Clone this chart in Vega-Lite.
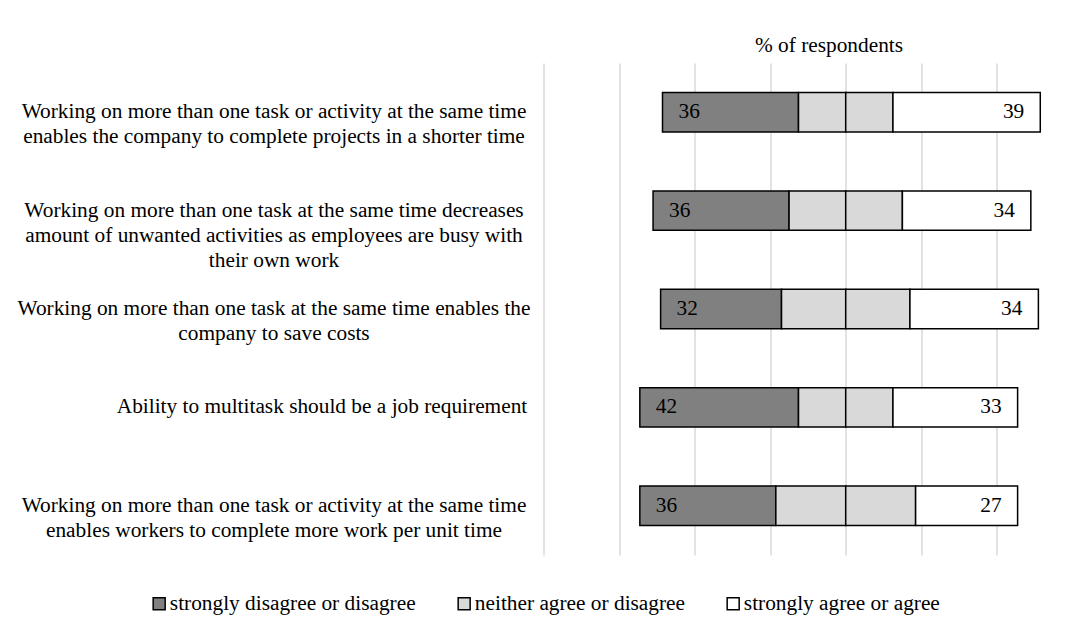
{
  "$schema": "https://vega.github.io/schema/vega-lite/v6.json",
  "autosize": "none",
  "padding": {"left": 543.5, "top": 63, "right": 11.5, "bottom": 78},
  "width": 510,
  "height": 492,
  "background": "white",
  "config": {
    "view": {"stroke": null},
    "font": "Liberation Serif, Times New Roman, serif"
  },
  "data": {
    "values": [
      {"q": "Working on more than one task or activity at the same time|enables the company to complete projects in a shorter time", "cat": "strongly disagree or disagree", "v": -36, "pct": 36},
      {"q": "Working on more than one task or activity at the same time|enables the company to complete projects in a shorter time", "cat": "neither agree or disagree", "v": -12.5, "pct": 25},
      {"q": "Working on more than one task or activity at the same time|enables the company to complete projects in a shorter time", "cat": "neither agree or disagree", "v": 12.5, "pct": 25},
      {"q": "Working on more than one task or activity at the same time|enables the company to complete projects in a shorter time", "cat": "strongly agree or agree", "v": 39, "pct": 39},
      {"q": "Working on more than one task at the same time decreases|amount of unwanted activities as employees are busy with|their own work", "cat": "strongly disagree or disagree", "v": -36, "pct": 36},
      {"q": "Working on more than one task at the same time decreases|amount of unwanted activities as employees are busy with|their own work", "cat": "neither agree or disagree", "v": -15, "pct": 30},
      {"q": "Working on more than one task at the same time decreases|amount of unwanted activities as employees are busy with|their own work", "cat": "neither agree or disagree", "v": 15, "pct": 30},
      {"q": "Working on more than one task at the same time decreases|amount of unwanted activities as employees are busy with|their own work", "cat": "strongly agree or agree", "v": 34, "pct": 34},
      {"q": "Working on more than one task at the same time enables the|company to save costs", "cat": "strongly disagree or disagree", "v": -32, "pct": 32},
      {"q": "Working on more than one task at the same time enables the|company to save costs", "cat": "neither agree or disagree", "v": -17, "pct": 34},
      {"q": "Working on more than one task at the same time enables the|company to save costs", "cat": "neither agree or disagree", "v": 17, "pct": 34},
      {"q": "Working on more than one task at the same time enables the|company to save costs", "cat": "strongly agree or agree", "v": 34, "pct": 34},
      {"q": "Ability to multitask should be a job requirement", "cat": "strongly disagree or disagree", "v": -42, "pct": 42},
      {"q": "Ability to multitask should be a job requirement", "cat": "neither agree or disagree", "v": -12.5, "pct": 25},
      {"q": "Ability to multitask should be a job requirement", "cat": "neither agree or disagree", "v": 12.5, "pct": 25},
      {"q": "Ability to multitask should be a job requirement", "cat": "strongly agree or agree", "v": 33, "pct": 33},
      {"q": "Working on more than one task or activity at the same time|enables workers to complete more work per unit time", "cat": "strongly disagree or disagree", "v": -36, "pct": 36},
      {"q": "Working on more than one task or activity at the same time|enables workers to complete more work per unit time", "cat": "neither agree or disagree", "v": -18.5, "pct": 37},
      {"q": "Working on more than one task or activity at the same time|enables workers to complete more work per unit time", "cat": "neither agree or disagree", "v": 18.5, "pct": 37},
      {"q": "Working on more than one task or activity at the same time|enables workers to complete more work per unit time", "cat": "strongly agree or agree", "v": 27, "pct": 27}
    ]
  },
  "encoding": {
    "y": {
      "field": "q",
      "type": "nominal",
      "sort": null,
      "scale": {"paddingInner": 0.6, "paddingOuter": 0.3},
      "axis": {
        "title": null,
        "domain": false,
        "ticks": false,
        "grid": false,
        "labelExpr": "split(datum.label, '|')",
        "labelFont": "Liberation Serif, Times New Roman, serif",
        "labelFontSize": 21.33,
        "labelColor": "black",
        "labelLineHeight": 25,
        "labelLimit": 0,
        "labelAlign": "center",
        "labelBaseline": "middle",
        "labelPadding": {"condition": {"test": "indexof(datum.value, 'Ability') == 0", "value": 222}, "value": 270}
      }
    }
  },
  "layer": [
    {
      "mark": {"type": "bar", "stroke": "black", "strokeWidth": 1.5},
      "encoding": {
        "x": {
          "field": "v",
          "type": "quantitative",
          "stack": "zero",
          "scale": {"domain": [-80, 55], "nice": false, "zero": false},
          "axis": {
            "orient": "top",
            "values": [-80, -60, -40, -20, 0, 20, 40],
            "labels": false,
            "ticks": false,
            "domain": false,
            "grid": true,
            "gridColor": "#d9d9d9",
            "gridWidth": 1.5,
            "title": "% of respondents",
            "titleFont": "Liberation Serif, Times New Roman, serif",
            "titleFontSize": 21.33,
            "titleFontWeight": "normal",
            "titleColor": "black",
            "titleX": 285,
            "titleY": -18,
            "titleAlign": "center",
            "titleBaseline": "middle"
          }
        },
        "color": {
          "field": "cat",
          "type": "nominal",
          "scale": {
            "domain": ["strongly disagree or disagree", "neither agree or disagree", "strongly agree or agree"],
            "range": ["#808080", "#d9d9d9", "#ffffff"]
          },
          "legend": {
            "title": null,
            "orient": "none",
            "direction": "horizontal",
            "legendX": -395,
            "legendY": 530,
            "padding": 0,
            "symbolType": "square",
            "symbolSize": 144,
            "symbolStrokeColor": "black",
            "symbolStrokeWidth": 1.5,
            "symbolOpacity": 1,
            "labelFont": "Liberation Serif, Times New Roman, serif",
            "labelFontSize": 21.33,
            "labelColor": "black",
            "labelOffset": 0,
            "labelLimit": 0,
            "columnPadding": 37
          }
        },
        "order": {"field": "cat", "sort": "ascending"}
      }
    },
    {
      "mark": {"type": "rule", "color": "#c4c4c4", "strokeWidth": 2.2},
      "encoding": {"x": {"datum": 0}}
    },
    {
      "mark": {"type": "text", "align": "left", "baseline": "middle", "dx": 16, "font": "Liberation Serif, Times New Roman, serif", "fontSize": 21.33, "color": "black"},
      "encoding": {
        "x": {"field": "v", "type": "quantitative", "stack": "zero"},
        "order": {"field": "cat", "sort": "ascending"},
        "text": {"condition": {"test": "datum.cat === 'strongly disagree or disagree'", "field": "pct", "type": "quantitative"}, "value": ""}
      }
    },
    {
      "mark": {"type": "text", "align": "right", "baseline": "middle", "dx": -16, "font": "Liberation Serif, Times New Roman, serif", "fontSize": 21.33, "color": "black"},
      "encoding": {
        "x": {"field": "v", "type": "quantitative", "stack": "zero"},
        "order": {"field": "cat", "sort": "ascending"},
        "text": {"condition": {"test": "datum.cat === 'strongly agree or agree'", "field": "pct", "type": "quantitative"}, "value": ""}
      }
    }
  ]
}
